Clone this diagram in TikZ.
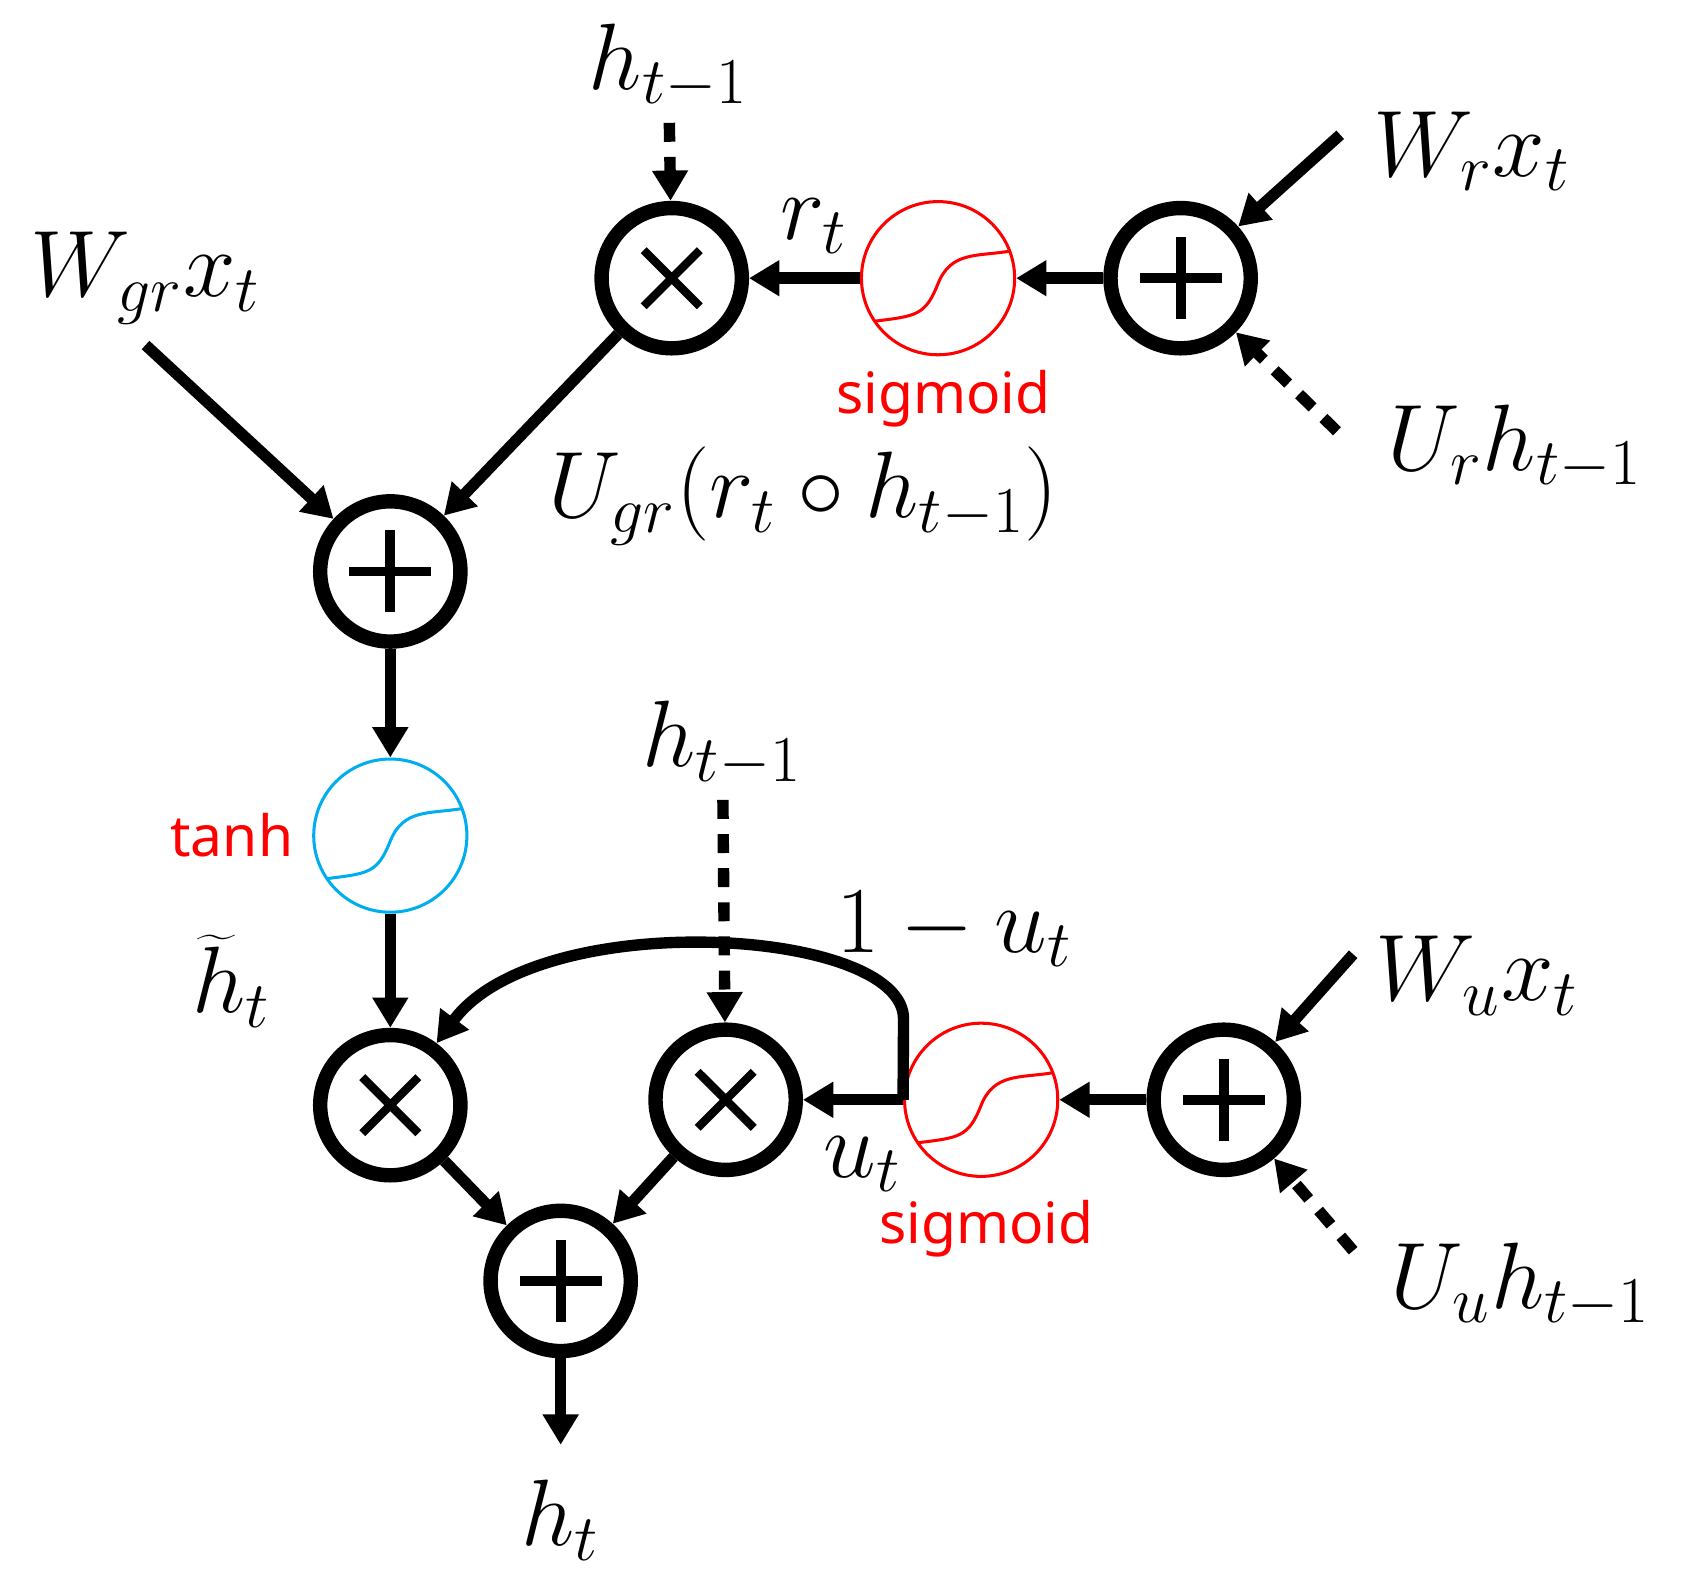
\documentclass[tikz,border=0pt]{standalone}
\usepackage{fontspec}
\newfontfamily\labelfont{Noto Sans}
\usetikzlibrary{arrows.meta}
\begin{document}
\begin{tikzpicture}[x=0.01cm, y=-0.01cm, >={Triangle[length=8pt,width=9pt]},
  op node/.style={circle, draw, line width=3.8pt, minimum size=1.3cm, inner sep=0pt},
  plus node/.style={op node, path picture={\draw[line width=2.6pt]
      ([xshift=-0.38cm]path picture bounding box.center) -- ([xshift=0.38cm]path picture bounding box.center)
      ([yshift=-0.38cm]path picture bounding box.center) -- ([yshift=0.38cm]path picture bounding box.center);}},
  times node/.style={op node, path picture={\draw[line width=2.2pt]
      ([shift={(-0.26cm,-0.26cm)}]path picture bounding box.center) -- ([shift={(0.26cm,0.26cm)}]path picture bounding box.center)
      ([shift={(-0.26cm,0.26cm)}]path picture bounding box.center) -- ([shift={(0.26cm,-0.26cm)}]path picture bounding box.center);}},
  act node/.style={circle, draw, line width=0.8pt, minimum size=1.42cm, inner sep=0pt,
    path picture={\draw[line width=0.8pt] ([xshift=-0.6cm,yshift=-0.4cm]path picture bounding box.center)
      .. controls +(0.4cm,0.05cm) and +(-0.12cm,-0.3cm) .. ([yshift=-0.05cm]path picture bounding box.center)
      .. controls +(0.12cm,0.3cm) and +(-0.3cm,-0.05cm) .. ([xshift=0.66cm,yshift=0.25cm]path picture bounding box.center);}},
  flow/.style={->, line width=3pt},
  dflow/.style={->, line width=3pt, dash pattern=on 5pt off 4pt},
  lbl/.style={font=\fontsize{24}{28}\selectfont},
  fname/.style={font=\labelfont\fontsize{15}{18}\selectfont, text=red}]
  \useasboundingbox (0,0) rectangle (1560,1472);

  % reset gate
  \node[times node] (mr) at (623,258) {};
  \node[act node, red] (sr) at (870,258) {};
  \node[plus node] (ar) at (1095,258) {};
  \node[lbl] (h1) at (620,62) {$h_{t-1}$};
  \node[lbl] (wr) at (1365,140) {$W_r x_t$};
  \node[lbl] (ur) at (1405,415) {$U_r h_{t-1}$};
  \node[fname] at (875,370) {sigmoid};
  \node[lbl] at (755,210) {$r_t$};

  % candidate
  \node[plus node] (ag) at (362,530) {};
  \node[lbl] (wg) at (135,258) {$W_{gr} x_t$};
  \node[lbl] at (745,460) {$U_{gr}(r_t \circ h_{t-1})$};
  \node[act node, cyan] (th) at (362,775) {};
  \node[fname] at (215,775) {tanh};
  \node[lbl] at (215,910) {$\widetilde{h}_t$};

  % update gate
  \node[times node] (ma) at (362,1025) {};
  \node[times node] (mb) at (673,1020) {};
  \node[act node, red] (su) at (910,1020) {};
  \node[plus node] (au) at (1135,1020) {};
  \node[plus node] (ah) at (520,1188) {};
  \node[lbl] (h2) at (670,690) {$h_{t-1}$};
  \node[lbl] (wu) at (1370,905) {$W_u x_t$};
  \node[lbl] (uu) at (1410,1192) {$U_u h_{t-1}$};
  \node[lbl] at (885,862) {$1-u_t$};
  \node[lbl] at (800,1080) {$u_t$};
  \node[fname] at (915,1140) {sigmoid};
  \node[lbl] (ht) at (520,1410) {$h_t$};

  \draw[dflow] (h1) -- (mr);
  \draw[flow] (1243,125) -- (ar);
  \draw[dflow] (1240,400) -- (ar);
  \draw[flow] (ar) -- (sr);
  \draw[flow] (sr) -- (mr);
  \draw[flow] (mr) -- (ag);
  \draw[flow] (135,320) -- (ag);
  \draw[flow] (ag) -- (th);
  \draw[flow] (th) -- (ma);
  \draw[dflow] (h2) -- (mb);
  \draw[flow] (1255,885) -- (au);
  \draw[dflow] (1255,1160) -- (au);
  \draw[flow] (au) -- (su);
  \draw[flow] (su.west) -- (mb);
  \draw[flow] (su.west) -- (838,945) .. controls (838,860) and (500,840) .. (ma);
  \draw[flow] (ma) -- (ah);
  \draw[flow] (mb) -- (ah);
  \draw[flow] (ah) -- (520,1340);
\end{tikzpicture}
\end{document}
